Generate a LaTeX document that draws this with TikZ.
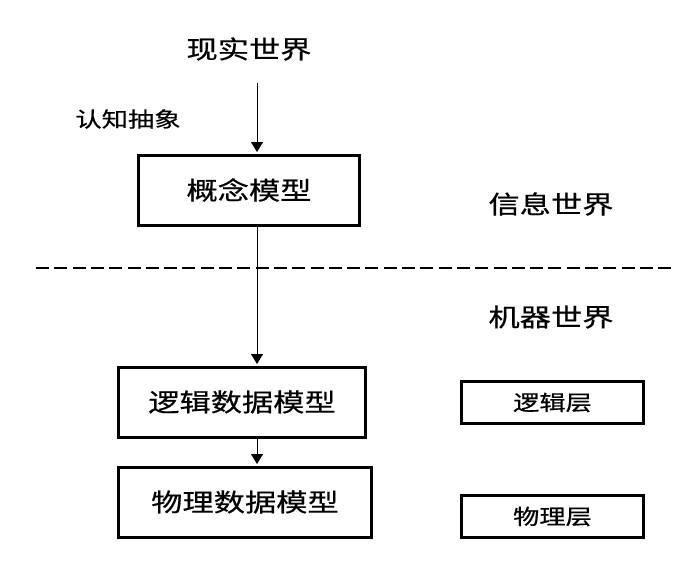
\documentclass[tikz,border=0pt]{standalone}
\usepackage{fontspec}
\usepackage{graphicx}
\setmainfont{Noto Sans CJK SC}[FakeBold=0.5]
\usetikzlibrary{arrows.meta}
\newcommand\wtxt[1]{\scalebox{1.25}[1]{#1}}
\begin{document}
\begin{tikzpicture}[x=1pt,y=-1pt,
  big/.style={font=\fontsize{25}{30}\selectfont, inner sep=0pt},
  small/.style={font=\fontsize{21}{25}\selectfont, inner sep=0pt},
  mbox/.style={draw, line width=3pt, inner sep=0pt, minimum height=70pt},
  lbox/.style={draw, line width=2.6pt, inner sep=0pt, minimum width=182pt, minimum height=42pt},
  arr/.style={line width=1pt, -{Triangle[length=10pt,width=12pt]}, shorten >=1.5pt},
  sepline/.style={line width=2pt, dash pattern=on 13pt off 5.3pt},
]
\useasboundingbox (0,0) rectangle (681,562);
\node[big] (real) at (249,49) {\wtxt{现实世界}};
\node[small] (cog) at (128,119) {\wtxt{认知抽象}};
\node[mbox,big,minimum width=221pt] (cm) at (249,190) {\wtxt{概念模型}};
\node[big] (info) at (551,204) {\wtxt{信息世界}};
\node[big] (mach) at (551,317) {\wtxt{机器世界}};
\node[mbox,big,minimum width=247pt] (lm) at (242,402) {\wtxt{逻辑数据模型}};
\node[mbox,big,minimum width=253pt] (pm) at (245,502) {\wtxt{物理数据模型}};
\node[lbox,small] (ll) at (552.5,402.5) {\wtxt{逻辑层}};
\node[lbox,small] (pl) at (552.5,516.5) {\wtxt{物理层}};
\coordinate (d1) at (36,268);
\coordinate (d2) at (671,268);
\draw[sepline] (d1) -- (d2);
\coordinate (a0) at (257,83);
\draw[arr] (a0) -- (cm.north -| a0);
\draw[arr] (cm.south -| a0) -- (lm.north -| a0);
\draw[arr] (lm.south -| a0) -- (pm.north -| a0);
\end{tikzpicture}
\end{document}
